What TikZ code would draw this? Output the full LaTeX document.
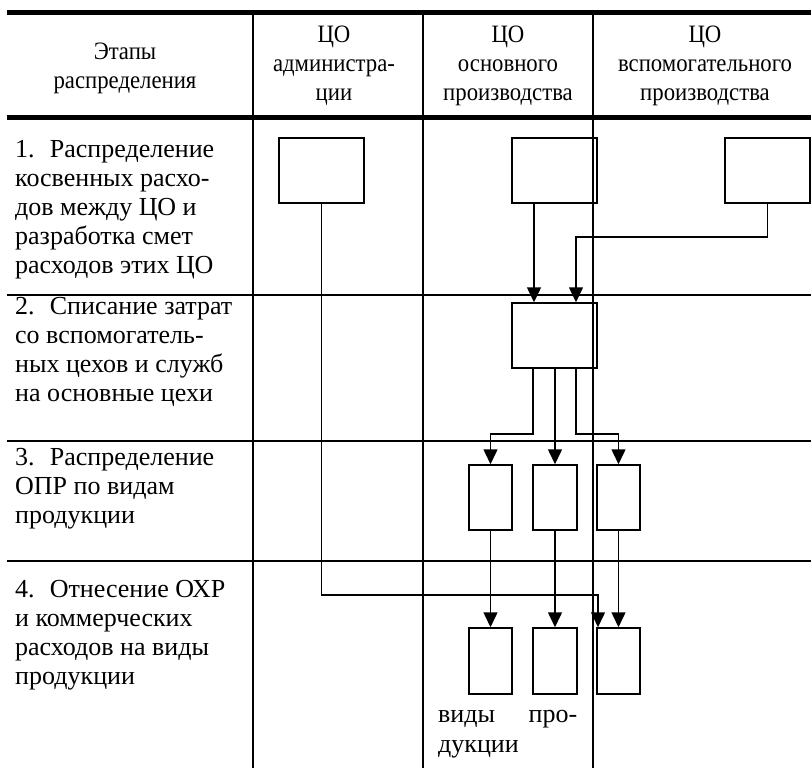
\documentclass[tikz,border=0pt]{standalone}
\usepackage{fontspec}
\setmainfont{Liberation Serif}
\newfontfamily\hdrfont[FakeStretch=0.91]{Liberation Serif}
\usetikzlibrary{arrows.meta}
\tikzset{
  box/.style={draw, line width=1.5pt, rectangle, inner sep=0pt},
  bigbox/.style={box, minimum width=85pt, minimum height=65pt},
  thinbox/.style={box, minimum width=43pt, minimum height=66pt},
  conn/.style={line width=1.5pt},
  arr/.style={conn, -{Triangle[length=15pt,width=14pt]}},
  grid/.style={line width=2.5pt},
  thick rule/.style={line width=5pt},
  rowtext/.style={anchor=north west, align=left, inner sep=0pt,
    font=\fontsize{26}{29}\selectfont},
  headtext/.style={anchor=north, align=center, inner sep=0pt,
    font=\hdrfont\fontsize{25}{29}\selectfont}
}
\begin{document}
\begin{tikzpicture}[x=1pt, y=-1pt]
\useasboundingbox (0,0) rectangle (811,768);
% table rules
\draw[thick rule] (7,12.5) -- (811,12.5);
\draw[thick rule] (7,117.5) -- (811,117.5);
\draw[grid] (7,295) -- (811,295);
\draw[grid] (7,441) -- (811,441);
\draw[grid] (7,561) -- (811,561);
\draw[grid] (253,12.5) -- (253,768);
\draw[grid] (423,12.5) -- (423,768);
\draw[grid] (593,12.5) -- (593,768);
% header
\node[headtext] (h1) at (125,39) {\rule{0pt}{20pt}Этапы\\распределения};
\node[headtext] (h2) at (334,22) {\rule{0pt}{20pt}ЦО\\администра-\\ции};
\node[headtext] (h3) at (508,22) {\rule{0pt}{20pt}ЦО\\основного\\производства};
\node[headtext] (h4) at (705,22) {\rule{0pt}{20pt}ЦО\\вспомогательного\\производства};
% stage texts
\node[rowtext] (r1) at (15,137) {\rule{0pt}{20pt}1.~ Распределение\\косвенных расхо-\\дов между ЦО и\\разработка смет\\расходов этих ЦО};
\node[rowtext] (r2) at (15,294) {\rule{0pt}{20pt}2.~ Списание затрат\\со вспомогатель-\\ных цехов и служб\\на основные цехи};
\node[rowtext] (r3) at (15,445) {\rule{0pt}{20pt}3.~ Распределение\\ОПР по видам\\продукции};
\node[rowtext] (r4) at (15,577) {\rule{0pt}{20pt}4.~ Отнесение ОХР\\и коммерческих\\расходов на виды\\продукции};
% boxes
\node[bigbox] (A) at (321.5,170.5) {};
\node[bigbox] (M) at (554.5,170.5) {};
\node[bigbox] (V) at (767.5,170.5) {};
\node[bigbox] (S) at (554.5,335.5) {};
\node[thinbox, minimum height=65pt] (P1) at (490.5,497.5) {};
\node[thinbox, minimum height=65pt, minimum width=44pt] (P2) at (555,497.5) {};
\node[thinbox, minimum height=65pt] (P3) at (618.5,497.5) {};
\node[thinbox] (Q1) at (490.5,661) {};
\node[thinbox, minimum width=44pt] (Q2) at (555,661) {};
\node[thinbox] (Q3) at (618.5,661) {};
% label under product boxes
\node[anchor=north west, inner sep=0pt, text width=139pt, align=left,
  font=\fontsize{26}{30}\selectfont] (lab) at (438,702)
  {\rule{0pt}{20pt}виды\hfill про-\\дукции};
% connectors
\coordinate (vj) at (576,237);
\coordinate (aj) at (598,595);
\draw[arr] ([xshift=-20.5pt]M.south) -- ([xshift=-20.5pt]S.north);
\draw[arr] (V.south) |- (vj) -- (vj |- S.north);
\draw[arr] ([xshift=-21.5pt]S.south) -- ++(0,65) -| (P1.north);
\draw[arr] (S.south -| P2.north) -- (P2.north);
\draw[arr] ([xshift=21.5pt]S.south) -- ++(0,65) -| (P3.north);
\draw[arr] (P1.south) -- (Q1.north);
\draw[arr] (P2.south) -- (Q2.north);
\draw[arr] (P3.south) -- (Q3.north);
\draw[arr] (A.south) |- (aj) -- (aj |- Q3.north);
\end{tikzpicture}
\end{document}
